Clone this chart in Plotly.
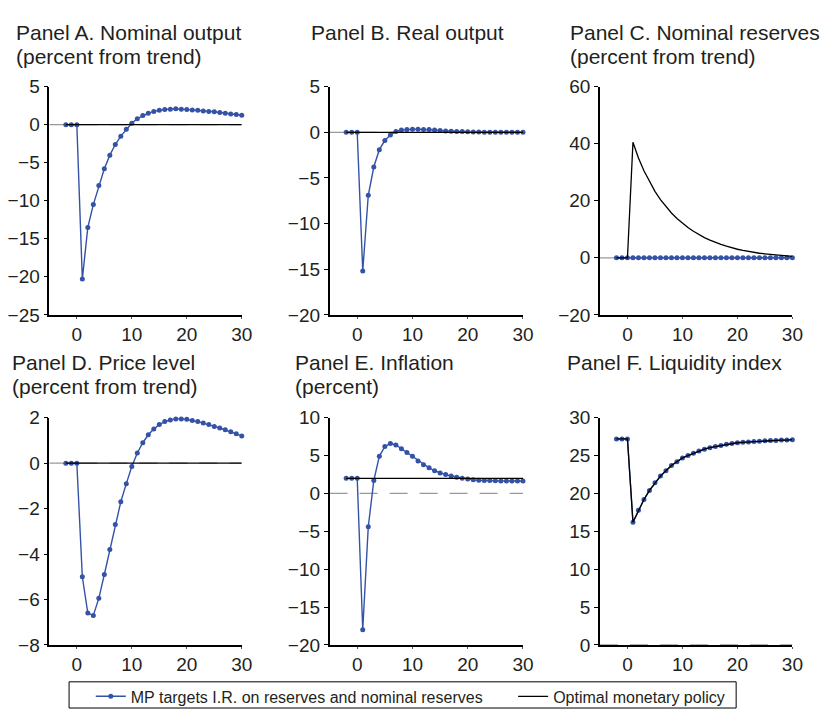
import plotly.graph_objects as go

periods = list(range(-2, 31))

# Panel A: nominal output (percent from trend)
nominal_output_mp = [0, 0, 0, -20.3, -13.5, -10.5, -8.0, -5.8, -4.0, -2.6, -1.5, -0.6, 0.2,
                     0.8, 1.2, 1.5, 1.75, 1.9, 2.0, 2.05, 2.1, 2.05, 2.0, 1.95, 1.9, 1.8,
                     1.75, 1.7, 1.6, 1.5, 1.4, 1.35, 1.25]
nominal_output_opt = [0] * 33

# Panel B: real output
real_output_mp = [0, 0, 0, -15.2, -6.9, -3.8, -1.9, -0.9, -0.3, 0.1, 0.25, 0.3, 0.35,
                  0.35, 0.3, 0.3, 0.25, 0.2, 0.15, 0.12, 0.1, 0.08, 0.05, 0.04, 0.03, 0.02,
                  0.02, 0.01, 0.01, 0.0, 0.0, 0.0, 0.0]
real_output_opt = [0] * 33

# Panel C: nominal reserves (percent from trend)
reserves_mp = [0] * 33
reserves_opt = [0, 0, 0, 40.5, 35.0, 30.5, 26.7, 23.3, 20.4, 17.9, 15.7, 13.8, 12.1,
                10.6, 9.3, 8.1, 7.1, 6.2, 5.4, 4.7, 4.1, 3.5, 3.0, 2.6, 2.2, 1.9,
                1.6, 1.4, 1.2, 1.0, 0.8, 0.7, 0.5]

# Panel D: price level (percent from trend)
price_mp = [0, 0, 0, -5.0, -6.6, -6.7, -5.95, -4.9, -3.8, -2.7, -1.7, -0.9, -0.15,
            0.45, 0.9, 1.25, 1.5, 1.7, 1.83, 1.9, 1.95, 1.95, 1.93, 1.88, 1.83, 1.77,
            1.7, 1.62, 1.55, 1.47, 1.38, 1.3, 1.2]
price_opt = [0] * 33

# Panel E: inflation (percent)
inflation_mp = [2, 2, 2, -18.0, -4.4, 1.7, 4.9, 6.2, 6.6, 6.4, 5.9, 5.4, 4.9,
                4.3, 3.8, 3.4, 3.0, 2.7, 2.5, 2.3, 2.15, 2.0, 1.9, 1.8, 1.75, 1.7,
                1.7, 1.68, 1.66, 1.65, 1.65, 1.65, 1.65]
inflation_opt = [2] * 33

# Panel F: liquidity index
liquidity_mp = [27.2, 27.2, 27.2, 16.2, 17.8, 19.2, 20.4, 21.4, 22.3, 23.0, 23.7, 24.2, 24.7,
                25.0, 25.3, 25.6, 25.85, 26.05, 26.2, 26.35, 26.5, 26.6, 26.7, 26.75, 26.8, 26.85,
                26.9, 26.95, 27.0, 27.0, 27.05, 27.05, 27.1]
liquidity_opt = liquidity_mp[:]

title_line1 = ["Panel A. Nominal output", "Panel B. Real output", "Panel C. Nominal reserves",
               "Panel D. Price level", "Panel E. Inflation", "Panel F. Liquidity index"]
title_line2 = ["(percent from trend)", "", "(percent from trend)",
               "(percent from trend)", "(percent)", ""]
y_ranges = [(-25, 5, 5), (-20, 5, 5), (-20, 60, 20), (-8, 2, 2), (-20, 10, 5), (0, 30, 5)]
x_ticks = [0, 10, 20, 30]
legend_names = ["MP targets I.R. on reserves and nominal reserves", "Optimal monetary policy"]

mp_series = [nominal_output_mp, real_output_mp, reserves_mp, price_mp, inflation_mp, liquidity_mp]
opt_series = [nominal_output_opt, real_output_opt, reserves_opt, price_opt, inflation_opt, liquidity_opt]

W, H = 833, 720
BLUE = "#3452a6"
TXT = "#231f20"
FONT = "Liberation Sans, Arial, sans-serif"

col_px = [(50, 245), (334, 530), (608, 803)]
row_px = [(79, 314), (420, 654)]
title_x = [14, 313, 576, 10, 297, 573]
title_top = [9, 9, 9, 349, 349, 349]
LINE_GAP = 25

fig = go.Figure()
layout = dict(
    width=W, height=H, margin=dict(l=0, r=0, t=0, b=0),
    paper_bgcolor="white", plot_bgcolor="white",
    font=dict(family=FONT, color=TXT),
    annotations=[], shapes=[],
)

for i in range(6):
    r, c = divmod(i, 3)
    xa = "xaxis" if i == 0 else f"xaxis{i+1}"
    ya = "yaxis" if i == 0 else f"yaxis{i+1}"
    xr = "x" if i == 0 else f"x{i+1}"
    yr = "y" if i == 0 else f"y{i+1}"
    x0, x1 = col_px[c]
    y0, y1 = row_px[r]
    lo, hi, dt = y_ranges[i]
    layout[xa] = dict(domain=[x0 / W, x1 / W], anchor=yr, range=[-5, 30],
                      tickvals=x_ticks, showline=True, linecolor="black", linewidth=1.5,
                      showgrid=False, zeroline=False, ticks="outside", ticklen=2,
                      tickcolor="#555555", tickwidth=1,
                      tickfont=dict(size=19, color=TXT, family=FONT))
    layout[ya] = dict(domain=[1 - y1 / H, 1 - y0 / H], anchor=xr, range=[lo, hi], dtick=dt,
                      tick0=lo, showline=True, linecolor="black", linewidth=1.5,
                      showgrid=False, zeroline=False, ticks="outside", ticklen=4,
                      tickcolor="black", tickwidth=1,
                      tickfont=dict(size=19, color=TXT, family=FONT))
    # dashed reference line at zero
    layout["shapes"].append(dict(type="line", xref=xr, yref=yr, x0=-5, x1=30, y0=0, y1=0,
                                 line=dict(color="#999999", width=1.2, dash="18px,12px"),
                                 layer="below"))
    fig.add_trace(go.Scatter(x=periods, y=mp_series[i], xaxis=xr, yaxis=yr,
                             mode="lines+markers", name=legend_names[0],
                             line=dict(color=BLUE, width=1.4),
                             marker=dict(color=BLUE, size=5),
                             showlegend=(i == 0), legend="legend", cliponaxis=False))
    fig.add_trace(go.Scatter(x=periods, y=opt_series[i], xaxis=xr, yaxis=yr,
                             mode="lines", name=legend_names[1],
                             line=dict(color="black", width=1.3),
                             showlegend=(i == 0), legend="legend2", cliponaxis=False))
    for k, txt in enumerate([title_line1[i], title_line2[i]]):
        if not txt:
            continue
        layout["annotations"].append(dict(text=txt, xref="paper", yref="paper",
                                          x=title_x[i] / W, y=1 - (title_top[i] + k * LINE_GAP) / H,
                                          xanchor="left", yanchor="top", showarrow=False,
                                          align="left", font=dict(size=21, color=TXT, family=FONT)))

# legend box
layout["shapes"].append(dict(type="rect", xref="paper", yref="paper",
                             x0=70 / W, x1=746 / W, y0=1 - 719 / H, y1=1 - 692 / H,
                             line=dict(color="black", width=1)))
leg_common = dict(orientation="h", yanchor="middle", xanchor="left", bgcolor="rgba(0,0,0,0)",
                  font=dict(size=16, color=TXT, family=FONT), borderwidth=0)
layout["legend"] = dict(leg_common, x=92 / W, y=1 - 707 / H)
layout["legend2"] = dict(leg_common, x=520 / W, y=1 - 707 / H)

fig.update_layout(**layout)
fig.write_html("out.html")
